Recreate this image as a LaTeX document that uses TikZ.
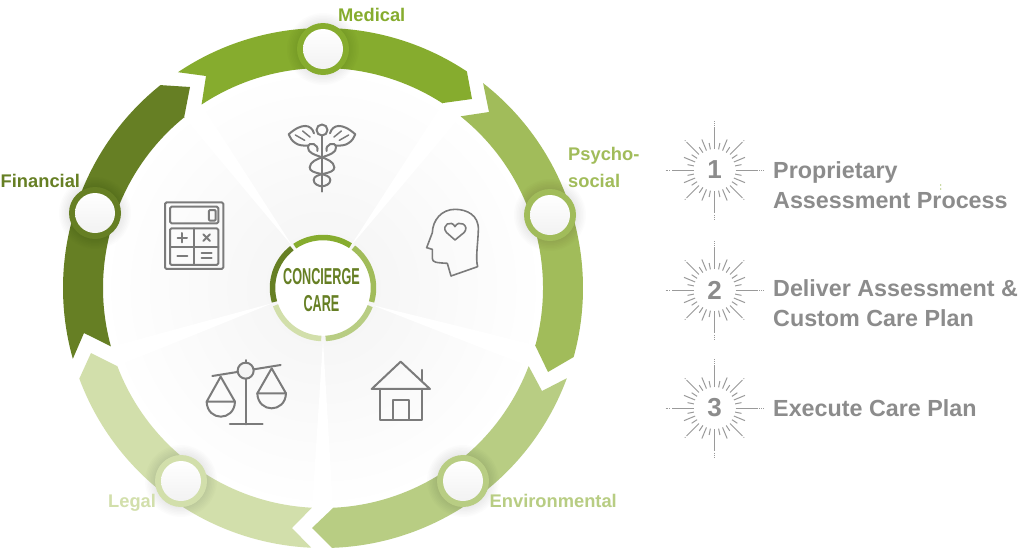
\documentclass[tikz,border=0pt]{standalone}
\usepackage{fontspec}
\usepackage{graphicx}
\setmainfont{Liberation Sans}
\definecolor{cFin}{HTML}{667F24}
\definecolor{cMed}{HTML}{86AC2E}
\definecolor{cPsy}{HTML}{A1BC5A}
\definecolor{cEnv}{HTML}{B8CD83}
\definecolor{cLeg}{HTML}{D2DFAB}
\definecolor{cGrey}{HTML}{8C8C8C}
\definecolor{cRay}{HTML}{9A9A9A}
\definecolor{cIcon}{HTML}{7B7B7B}
\newcommand{\bandshape}[7]{% colour, outer a1, a2, mid pts, inner a3, a4, end pts
  \fill[#1] ([shift={(#2:260pt)}]C) arc[start angle=#2,end angle=#3,radius=260pt] #4
    ([shift={(#5:220pt)}]C) arc[start angle=#5,end angle=#6,radius=220pt] #7 -- cycle;}
\newcommand{\ringarc}[3]{\draw[#1,line width=5.5pt] ([shift={(#2:50.5pt)}]C) arc[start angle=#2,end angle=#3,radius=50.5pt];}
\tikzset{
  lab/.style={font=\bfseries\fontsize{18.3}{22}\selectfont,anchor=base west,inner sep=0pt},
  steptext/.style={font=\bfseries\fontsize{23.3}{28}\selectfont,text=cGrey,anchor=base west,inner sep=0pt},
  digit/.style={font=\bfseries\fontsize{26}{28}\selectfont,text=cGrey,inner sep=0pt},
  icon/.style={draw=cIcon,line width=2pt,line cap=round,line join=round},
  raylong/.style={draw=cRay,line width=1pt},
  hub/.pic={
    \foreach \r in {36,34.5,...,26}{\fill[black,opacity=.012] (0,0) circle[radius=\r pt];}
    \fill[pic actions] (0,0) circle[radius=26pt];
    \shade[top color=white,bottom color=black!5] (0,0) circle[radius=20pt];
  },
  burstrays/.pic={
    \foreach \a in {0,90,180,270}{
      \draw[raylong] (\a:21pt) -- (\a:43pt);
      \draw[raylong,line width=.7pt,dash pattern=on .8pt off 1.4pt] (\a:44.5pt) -- (\a:49pt);
    }
    \foreach \a in {45,135,225,315}{
      \draw[raylong] (\a:22pt) -- (\a:39.5pt);
      \fill[cRay] (\a:41.5pt) circle[radius=.6pt];
    }
    \foreach \a in {22.5,67.5,112.5,157.5,202.5,247.5,292.5,337.5}{\draw[raylong] (\a:21pt) -- (\a:33pt);}
    \foreach \a in {11.25,33.75,56.25,78.75,101.25,123.75,146.25,168.75,191.25,213.75,236.25,258.75,281.25,303.75,326.25,348.75}{\draw[raylong] (\a:21pt) -- (\a:27.5pt);}
  }
}
\begin{document}
\begin{tikzpicture}[x=1pt,y=1pt]
\useasboundingbox (0,0) rectangle (1024,-549);
\fill[white] (0,0) rectangle (1024,-549);
\coordinate (C) at (323,-288);
% inner disc
\shade[inner color=black!4.5,outer color=white] (C) circle[radius=222pt];
% white spokes
\fill[white] (293,-247) -- (201,-104) -- (190,-90) -- (172,-104) -- (184,-117) -- cycle;
\fill[white] (350,-247) -- (443,-103) -- (455,-90) -- (474,-104) -- (461,-116) -- cycle;
\fill[white] (372,-305) -- (528,-366) -- (545,-372) -- (536,-352) -- (535,-345) -- cycle;
\fill[white] (323,-340) -- (333,-507) -- (333,-520) -- (312,-520) -- (312,-509) -- cycle;
\fill[white] (273,-303) -- (110,-347) -- (95,-352) -- (105,-372) -- (117,-366) -- cycle;
% bands
\bandshape{cFin}{-164.2}{-231.3}{-- (190,-87) -- (184,-118) --}{-231}{-164.6}{-- (84,-333)}
\bandshape{cMed}{123.9}{56.4}{-- (472,-99) -- (443,-103) --}{57}{123.5}{-- (206,-76)}
\bandshape{cPsy}{52}{-15.4}{-- (548,-372) -- (535,-345) --}{-15}{51.3}{-- (489,-112)}
\bandshape{cEnv}{-20.3}{-88}{-- (312,-528) -- (333,-508) --}{-87.4}{-20.8}{-- (542,-391)}
\bandshape{cLeg}{-92.6}{-159.6}{-- (91,-353) -- (117,-366) --}{-159.3}{-92.9}{-- (292,-528)}
% hubs on the bands
\path pic[fill=cMed] at (323,-49) {hub};
\path pic[fill=cPsy] at (550,-215) {hub};
\path pic[fill=cEnv] at (463,-481) {hub};
\path pic[fill=cLeg] at (181,-481) {hub};
\path pic[fill=cFin] at (95,-213) {hub};
% centre
\fill[white] (C) circle[radius=48pt];
\ringarc{cMed}{57}{124}
\ringarc{cPsy}{53}{-16}
\ringarc{cEnv}{-21}{-87}
\ringarc{cLeg}{-92}{-160}
\ringarc{cFin}{128}{196}
\node[inner sep=0pt,text=cFin,font=\bfseries\fontsize{23}{24}\selectfont] (conc) at (321.5,-277) {\scalebox{.55}[1]{CONCIERGE}};
\node[inner sep=0pt,text=cFin,font=\bfseries\fontsize{23}{24}\selectfont] (care) at (321.5,-304) {\scalebox{.55}[1]{CARE}};
% labels
\node[lab,text=cMed] (lmed) at (338,-21.5) {Medical};
\node[lab,text=cPsy] (lpsy1) at (568,-160) {Psycho-};
\node[lab,text=cPsy] (lpsy2) at (568,-187) {social};
\node[lab,text=cEnv] (lenv) at (489.5,-507) {Environmental};
\node[lab,text=cLeg] (lleg) at (108,-507) {Legal};
\node[lab,text=cFin] (lfin) at (0.5,-187) {Financial};
% caduceus
\foreach \m in {1,-1}{
\begin{scope}[shift={(322,-115)},x=.3333pt,y=-.3333pt,xscale=\m]
  \draw[icon] (-24,55) .. controls (-32,28) and (-60,22) .. (-100,58) .. controls (-96,68) and (-90,78) .. (-80,84) .. controls (-70,92) and (-55,92) .. (-42,92);
  \draw[icon,line width=1.5pt] (-80,60) -- (-52,76) (-58,48) -- (-36,66);
  \draw[icon] (-14,108) .. controls (-8,88) and (-40,76) .. (-42,97) .. controls (-44,128) and (34,122) .. (37,157) .. controls (38,180) and (-25,172) .. (-25,195) .. controls (-25,208) and (-10,213) .. (0,214);
\end{scope}}
\begin{scope}[shift={(322,-115)},x=.3333pt,y=-.3333pt]
  \draw[icon] (0,45) circle[radius=5.5pt];
  \draw[icon] (0,62) -- (0,230);
\end{scope}
% calculator
\begin{scope}[shift={(150,-190)},x=.3333pt,y=-.3333pt]
  \draw[icon,rounded corners=1.5pt] (45,37) rectangle (220,237);
  \draw[icon,rounded corners=1.5pt] (60,50) rectangle (205,100);
  \draw[icon,rounded corners=1.5pt] (60,115) rectangle (205,225);
  \draw[icon] (133,115) -- (133,225) (60,170) -- (205,170);
  \draw[icon,rounded corners=1pt] (177,60) rectangle (197,92);
  \draw[icon] (83,143) -- (111,143) (97,129) -- (97,157);
  \draw[icon] (160,133) -- (180,153) (180,133) -- (160,153);
  \draw[icon] (82,197) -- (112,197);
  \draw[icon] (155,190) -- (185,190) (155,203) -- (185,203);
\end{scope}
% head
\begin{scope}[shift={(350,-190)},x=.3333pt,y=-.3333pt]
  \draw[icon,line width=1.6pt] (303,258) -- (383,230) .. controls (376,205) and (384,160) .. (385,120) .. controls (387,75) and (350,58) .. (315,58) .. controls (275,58) and (248,90) .. (247,128) -- (230,173) -- (247,178) -- (247,205) .. controls (247,218) and (260,218) .. (292,220) -- cycle;
  \draw[icon,line width=1.6pt] (315,150) -- (289,127) .. controls (272,105) and (305,88) .. (315,110) .. controls (325,88) and (360,105) .. (343,127) -- cycle;
\end{scope}
% house
\begin{scope}[shift={(350,-190)},x=.3333pt,y=-.3333pt]
  \draw[icon] (65,597) -- (152,515) -- (240,597) -- cycle;
  \draw[icon] (215,540) -- (215,575);
  \draw[icon] (90,597) -- (90,690) -- (215,690) -- (215,597);
  \draw[icon] (130,690) -- (130,630) -- (176,630) -- (176,690);
\end{scope}
% scales
\begin{scope}[shift={(50,-340)},x=.3333pt,y=-.3333pt]
  \draw[icon] (487,108) -- (692,75);
  \fill[white!96!black] (587,92) circle[radius=8pt];
  \draw[icon] (587,92) circle[radius=8pt];
  \draw[icon] (587,60) -- (587,68);
  \draw[icon] (587,116) -- (587,253) (540,253) -- (638,253);
  \draw[icon] (470,185) -- (512,110) -- (555,185) -- cycle;
  \draw[icon] (470,185) .. controls (472,245) and (553,245) .. (555,185);
  \draw[icon] (622,160) -- (665,85) -- (708,160) -- cycle;
  \draw[icon] (622,160) .. controls (624,220) and (706,220) .. (708,160);
\end{scope}
% numbered steps
\path pic at (714.5,-170) {burstrays};
\path pic at (714.5,-290) {burstrays};
\path pic at (714.5,-408) {burstrays};
\node[digit] (n1) at (714.5,-170) {1};
\node[digit] (n2) at (714.5,-290) {2};
\node[digit] (n3) at (714.5,-408) {3};
\node[steptext] (s1a) at (773,-178) {Proprietary};
\node[steptext] (s1b) at (773,-208) {Assessment Process};
\node[steptext] (s2a) at (773,-296) {Deliver Assessment \&};
\node[steptext] (s2b) at (773,-326) {Custom Care Plan};
\node[steptext] (s3a) at (773,-416) {Execute Care Plan};
\fill[cMed] (940.7,-185) circle[radius=.6pt] (940.7,-189) circle[radius=.6pt];
\end{tikzpicture}
\end{document}
